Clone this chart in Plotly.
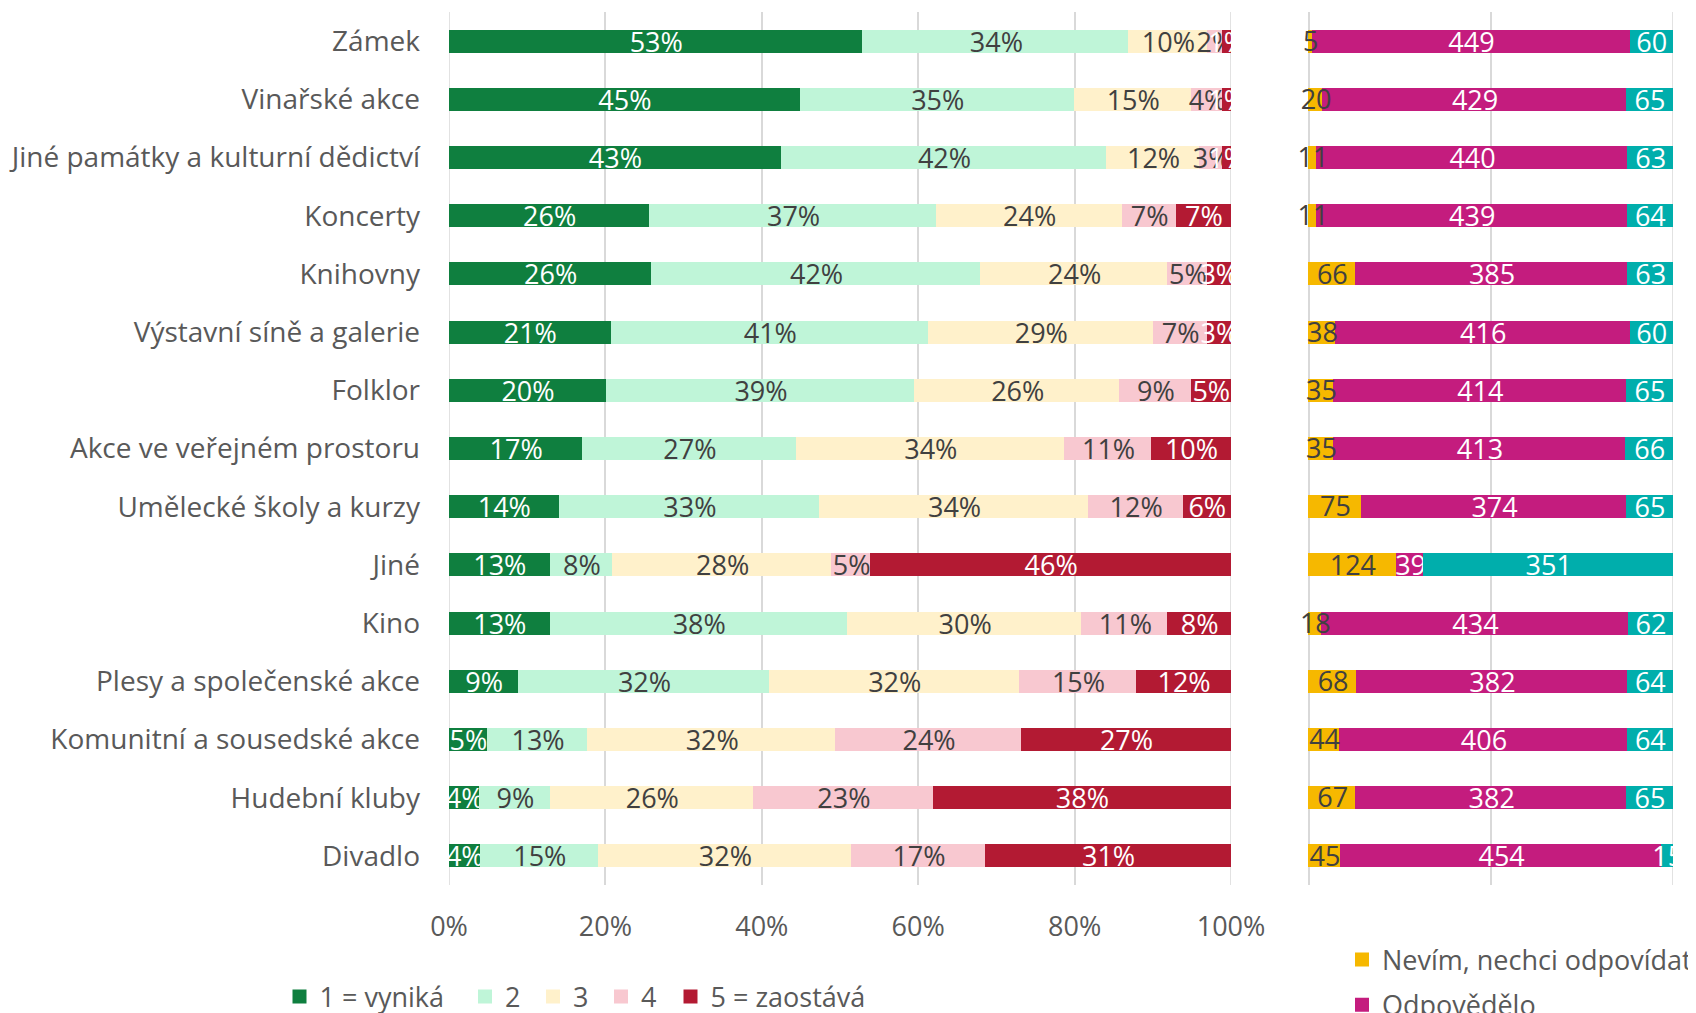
import plotly.graph_objects as go

categories = ["Zámek", "Vinařské akce", "Jiné památky a kulturní dědictví", "Koncerty",
              "Knihovny", "Výstavní síně a galerie", "Folklor", "Akce ve veřejném prostoru",
              "Umělecké školy a kurzy", "Jiné", "Kino", "Plesy a společenské akce",
              "Komunitní a sousedské akce", "Hudební kluby", "Divadlo"]

rating_names = ["1 = vyniká", "2", "3", "4", "5 = zaostává"]
r1 = [53, 45, 43, 26, 26, 21, 20, 17, 14, 13, 13, 9, 5, 4, 4]
r2 = [34, 35, 42, 37, 42, 41, 39, 27, 33, 8, 38, 32, 13, 9, 15]
r3 = [10, 15, 12, 24, 24, 29, 26, 34, 34, 28, 30, 32, 32, 26, 32]
r4 = [2, 4, 3, 7, 5, 7, 9, 11, 12, 5, 11, 15, 24, 23, 17]
r5 = [1, 1, 1, 7, 3, 3, 5, 10, 6, 46, 8, 12, 27, 38, 31]

resp_names = ["Nevím, nechci odpovídat", "Odpovědělo", "Neodpovídalo"]
nevim = [5, 20, 11, 11, 66, 38, 35, 35, 75, 124, 18, 68, 44, 67, 45]
odpov = [449, 429, 440, 439, 385, 416, 414, 413, 374, 39, 434, 382, 406, 382, 454]
neodp = [60, 65, 63, 64, 63, 60, 65, 66, 65, 351, 62, 64, 64, 65, 15]

x_ticks = [0, 20, 40, 60, 80, 100]
x_ticktext = ["0%", "20%", "40%", "60%", "80%", "100%"]
x2_ticks = [0, 50, 100]

rating_colors = ["#0F7F3F", "#BFF5D8", "#FFF1CB", "#F8C8D0", "#B31A33"]
rating_text = ["white", "#404040", "#404040", "#404040", "white"]
resp_colors = ["#F6B800", "#C41C7E", "#00AEAC"]
resp_text = ["#404040", "white", "white"]

W, H = 1696, 1013
OFF = 8  # page body margin
FONT = "Open Sans"
FS = 27
FS_CAT = 28
GRID = "#D9D9D9"

# pixel layout (screen coordinates of the reference)
L0, L100 = 449, 1231          # left panel 0% and 100%
R0, R100 = 1309, 1673         # right panel 0% and 100%
R_LEFT = 1294                 # right panel clipping edge
Y_TOP, Y_BOT = 12, 885
r2min = -(R0 - R_LEFT) / ((R100 - R0) / 100.0)
y_range = [len(categories) - 0.5, -0.5]   # reversed: first category on top
TXT_DROP = 0.05                            # small downward nudge of overlay labels
y3_range = [y_range[0] - TXT_DROP, y_range[1] - TXT_DROP]

leg_ids = ["legend", "legend3", "legend4", "legend5", "legend6"]
leg_marker_x = [298.5, 484, 552, 620, 689.5]

fig = go.Figure()

for name, vals, col, tcol, lid in zip(rating_names, [r1, r2, r3, r4, r5],
                                     rating_colors, rating_text, leg_ids):
    fig.add_trace(go.Bar(
        y=categories, x=vals, orientation="h", name=name,
        marker=dict(color=col, line=dict(width=2, color=col)),
        text=[f"{v}%" for v in vals], textposition="inside", insidetextanchor="middle",
        constraintext="none", textangle=0, cliponaxis=True,
        insidetextfont=dict(color=tcol, size=FS, family=FONT),
        xaxis="x", yaxis="y", legend=lid,
    ))

for i, (name, vals, col, tcol) in enumerate(zip(resp_names, [nevim, odpov, neodp],
                                                resp_colors, resp_text)):
    fig.add_trace(go.Bar(
        y=categories, x=vals, orientation="h", name=name,
        marker=dict(color=col, line=dict(width=2, color=col)),
        text=None if i == 0 else [str(v) for v in vals],
        textposition="inside", insidetextanchor="middle",
        constraintext="none", textangle=0, cliponaxis=True,
        insidetextfont=dict(color=tcol, size=FS, family=FONT),
        xaxis="x2", yaxis="y2", legend="legend2", legendgroup=f"g{i}",
    ))

# labels of the first right-hand segment, drawn above all bars (overlay subplot)
totals = [a + b + c for a, b, c in zip(nevim, odpov, neodp)]
fig.add_trace(go.Scatter(
    x=[n / t * 50.0 for n, t in zip(nevim, totals)], y=categories, mode="text",
    text=[str(n) for n in nevim], textposition="middle center",
    textfont=dict(color=resp_text[0], size=FS, family=FONT),
    xaxis="x3", yaxis="y3", showlegend=False, hoverinfo="skip", cliponaxis=True,
))

ydom = [1 - (Y_BOT - OFF) / H, 1 - (Y_TOP - OFF) / H]

shapes = []
for xv in [x_ticks[0], x_ticks[-1]]:
    shapes.append(dict(type="line", xref="x", yref="y domain", x0=xv, x1=xv, y0=0, y1=1,
                       line=dict(color=GRID, width=1.5), layer="below"))
for xv in [x2_ticks[0], x2_ticks[-1]]:
    shapes.append(dict(type="line", xref="x2", yref="y2 domain", x0=xv, x1=xv, y0=0, y1=1,
                       line=dict(color=GRID, width=1.5), layer="below"))

legend_common = dict(orientation="h", xanchor="left", yanchor="middle",
                     font=dict(size=FS, color="#595959", family=FONT),
                     bgcolor="rgba(0,0,0,0)")
legends = {}
for lid, mx in zip(leg_ids, leg_marker_x):
    legends[lid] = dict(legend_common, x=(mx - 27) / W, y=1 - (997 - OFF) / H)

fig.update_layout(
    width=W, height=H,
    margin=dict(l=0, r=0, t=0, b=0, autoexpand=False),
    barmode="stack", barnorm="percent", bargap=0.64,
    plot_bgcolor="white", paper_bgcolor="white",
    font=dict(family=FONT, size=FS, color="#595959"),
    shapes=shapes,
    xaxis=dict(domain=[(L0 - OFF) / W, (L100 - OFF) / W], range=[0, 100], tickmode="array",
               tickvals=x_ticks, ticktext=x_ticktext, showgrid=True, gridcolor=GRID,
               gridwidth=1.5, zeroline=False, showline=False, ticks="",
               ticklabelstandoff=23, fixedrange=True, automargin=False,
               tickfont=dict(size=FS, color="#595959")),
    yaxis=dict(domain=ydom, type="category", range=y_range, autorange=False, ticks="",
               showgrid=False, zeroline=False, showline=False, ticklabelstandoff=28,
               automargin=False, fixedrange=True,
               tickfont=dict(size=FS_CAT, color="#595959")),
    xaxis2=dict(domain=[(R_LEFT - OFF) / W, (R100 - OFF) / W], anchor="y2",
                range=[r2min, 100], tickmode="array", tickvals=x2_ticks,
                showticklabels=False, showgrid=True, gridcolor=GRID, gridwidth=1.5,
                zeroline=False, showline=False, ticks="", fixedrange=True,
                automargin=False),
    yaxis2=dict(domain=ydom, anchor="x2", type="category", range=y_range, autorange=False,
                showticklabels=False, ticks="", showgrid=False, zeroline=False,
                showline=False, automargin=False, fixedrange=True),
    xaxis3=dict(overlaying="x2", anchor="y3", range=[r2min, 100], visible=False,
                fixedrange=True, automargin=False),
    yaxis3=dict(overlaying="y2", anchor="x3", type="category", categoryorder="array",
                categoryarray=categories, range=y3_range, autorange=False, visible=False,
                fixedrange=True, automargin=False),
    legend2=dict(orientation="v", x=(1360 - 18 - OFF) / W, y=1 - (935.5 - OFF) / H,
                 xanchor="left", yanchor="top",
                 font=dict(size=FS, color="#595959", family=FONT),
                 bgcolor="rgba(0,0,0,0)", traceorder="grouped", tracegroupgap=7),
    **legends,
)

fig.write_html("out.html")
